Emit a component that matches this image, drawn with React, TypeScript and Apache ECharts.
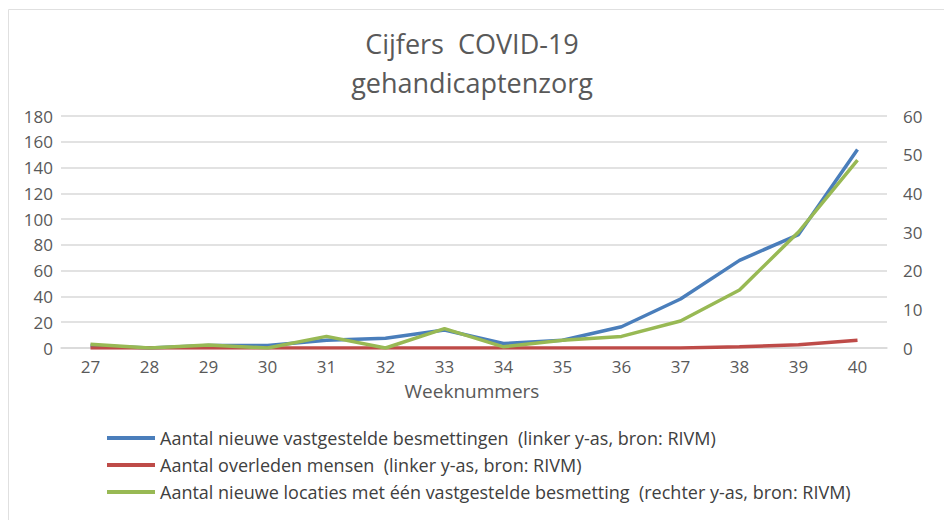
import React, { useEffect, useRef } from "react";
import * as echarts from "echarts";

const weeks = ["27", "28", "29", "30", "31", "32", "33", "34", "35", "36", "37", "38", "39", "40"];
const besmettingen = [2, 0, 2, 2, 6, 7.5, 14, 3.5, 6, 16.5, 38, 68, 88, 154];
const overleden = [0, 0, 0, 0, 0, 0, 0, 0, 0, 0, 0, 1, 2.5, 6];
const locaties = [1, 0, 0.8, 0, 3, 0, 5, 0.3, 2, 3, 7, 15, 30, 48.6];

const seriesNames = [
  "Aantal nieuwe vastgestelde besmettingen  (linker y-as, bron: RIVM)",
  "Aantal overleden mensen  (linker y-as, bron: RIVM)",
  "Aantal nieuwe locaties met één vastgestelde besmetting  (rechter y-as, bron: RIVM)",
];
const seriesColors = ["#4a7ebb", "#be4b48", "#98b954"];

const FONT = "Open Sans";
const GREY = "#595959";

export default function App() {
  const ref = useRef<HTMLDivElement>(null);
  useEffect(() => {
    const chart = echarts.init(ref.current!, null, { renderer: "svg" });
    chart.setOption({
      animation: false,
      backgroundColor: "#ffffff",
      textStyle: { fontFamily: FONT },
      title: {
        text: "Cijfers  COVID-19\ngehandicaptenzorg",
        left: "center",
        top: 19,
        textStyle: { fontFamily: FONT, fontSize: 27, fontWeight: "normal", color: GREY, lineHeight: 39 },
      },
      grid: { left: 61, right: 57, top: 116, bottom: 172, containLabel: false },
      xAxis: {
        type: "category",
        data: weeks,
        axisLine: { lineStyle: { color: "#d9d9d9", width: 1.5 } },
        axisTick: { show: false },
        axisLabel: { color: GREY, fontSize: 17, margin: 10, fontFamily: FONT },
      },
      yAxis: [
        {
          type: "value",
          min: 0,
          max: 180,
          interval: 20,
          axisLine: { show: false },
          axisTick: { show: false },
          axisLabel: { color: GREY, fontSize: 17, margin: 8, fontFamily: FONT },
          splitLine: { lineStyle: { color: "#d9d9d9", width: 1.5 } },
        },
        {
          type: "value",
          min: 0,
          max: 60,
          interval: 10,
          axisLine: { show: false },
          axisTick: { show: false },
          axisLabel: { color: GREY, fontSize: 17, margin: 16, fontFamily: FONT },
          splitLine: { show: false },
        },
      ],
      legend: {
        orient: "vertical",
        left: 102,
        top: 424,
        itemWidth: 48,
        itemHeight: 4,
        itemGap: 9,
        icon: "rect",
        textStyle: { color: "#404040", fontSize: 18, fontFamily: FONT },
        data: seriesNames,
      },
      graphic: [
        {
          type: "text",
          left: "center",
          top: 381,
          style: { text: "Weeknummers", fill: GREY, fontSize: 19, fontFamily: FONT },
        },
        {
          type: "line",
          shape: { x1: 8.5, y1: 9.5, x2: 944, y2: 9.5 },
          style: { stroke: "#e0e0e0", lineWidth: 1 },
        },
        {
          type: "line",
          shape: { x1: 8.5, y1: 9.5, x2: 8.5, y2: 520 },
          style: { stroke: "#e0e0e0", lineWidth: 1 },
        },
      ],
      series: [
        {
          name: seriesNames[0],
          type: "line",
          data: besmettingen,
          yAxisIndex: 0,
          symbol: "none",
          itemStyle: { color: seriesColors[0] },
          lineStyle: { color: seriesColors[0], width: 3.5 },
        },
        {
          name: seriesNames[1],
          type: "line",
          data: overleden,
          yAxisIndex: 0,
          symbol: "none",
          itemStyle: { color: seriesColors[1] },
          lineStyle: { color: seriesColors[1], width: 3.5 },
        },
        {
          name: seriesNames[2],
          type: "line",
          data: locaties,
          yAxisIndex: 1,
          symbol: "none",
          itemStyle: { color: seriesColors[2] },
          lineStyle: { color: seriesColors[2], width: 3.5 },
        },
      ],
    });
    return () => chart.dispose();
  }, []);
  return <div ref={ref} style={{ position: "absolute", left: 0, top: 0, width: 944, height: 520 }} />;
}
